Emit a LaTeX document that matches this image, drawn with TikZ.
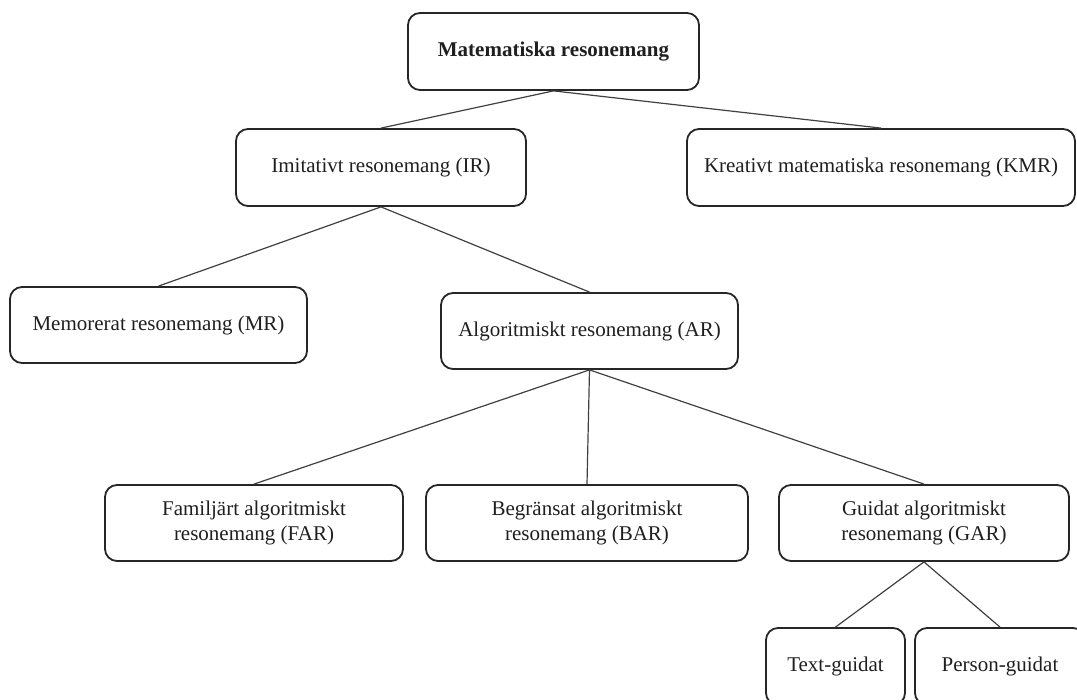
\documentclass[tikz,border=0pt]{standalone}
\usepackage{fontspec}
\setmainfont{Liberation Serif}
\begin{document}
\begin{tikzpicture}[x=1pt,y=-1pt,
  box/.style={draw=black!85, line width=1.8pt, rounded corners=12pt, align=center,
    text=black!88, font=\fontsize{21}{25}\selectfont, inner sep=0pt, minimum height=77pt},
  link/.style={draw=black!75, line width=1.2pt}]
\useasboundingbox (0,0) rectangle (1077,700);
\clip (0,0) rectangle (1077,700);
\node[box, minimum width=291pt, font=\bfseries\fontsize{21}{25}\selectfont] (top) at (553.5,51.5) {Matematiska resonemang};
\node[box, minimum width=290pt] (ir) at (381,167.5) {Imitativt resonemang (IR)};
\node[box, minimum width=388pt] (kmr) at (881,167.5) {Kreativt matematiska resonemang (KMR)};
\node[box, minimum width=297pt, minimum height=76pt] (mr) at (158.5,325) {Memorerat resonemang (MR)};
\node[box, minimum width=297pt, minimum height=76pt] (ar) at (589.5,331) {Algoritmiskt resonemang (AR)};
\node[box, minimum width=298pt, minimum height=76pt] (far) at (254,523) {Familjärt algoritmiskt\\resonemang (FAR)};
\node[box, minimum width=322pt, minimum height=76pt] (bar) at (587,523) {Begränsat algoritmiskt\\resonemang (BAR)};
\node[box, minimum width=290pt, minimum height=76pt] (gar) at (924,523) {Guidat algoritmiskt\\resonemang (GAR)};
\node[box, minimum width=139pt] (text) at (835.5,666.5) {Text-guidat};
\node[box, minimum width=170pt] (person) at (1000,666.5) {Person-guidat};
\draw[link] (top.south) -- (ir.north);
\draw[link] (top.south) -- (kmr.north);
\draw[link] (ir.south) -- (mr.north);
\draw[link] (ir.south) -- (ar.north);
\draw[link] (ar.south) -- (far.north);
\draw[link] (ar.south) -- (bar.north);
\draw[link] (ar.south) -- (gar.north);
\draw[link] (gar.south) -- (text.north);
\draw[link] (gar.south) -- (person.north);
\end{tikzpicture}
\end{document}
